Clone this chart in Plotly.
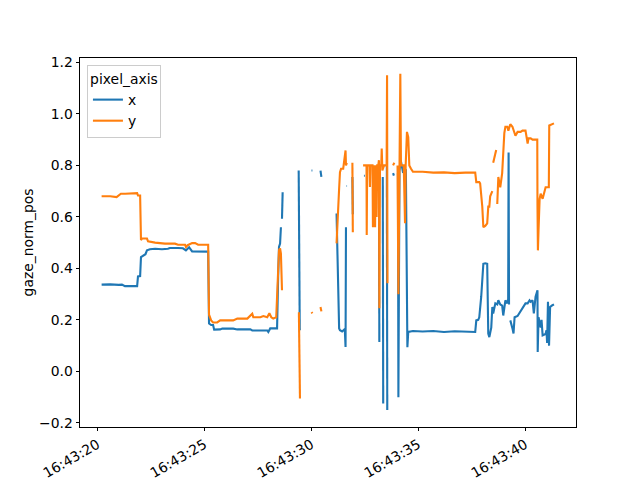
import pandas as pd
import plotly.graph_objects as go

# seconds after 16:43:00 and values (None = gap)
x_sec = [20.20, 20.60, 21.00, 21.15, 21.29, 21.60, 21.86, 21.90, 22.00, 22.04, 22.14, 22.25, 22.32, 22.46, 22.70,
         23.02, 23.30, 23.39, 23.77, 24.00, 24.14, 24.29, 24.43, 24.71, 25.18, 25.22, 25.32, 25.41, 25.46, 25.74,
         25.84, 26.35, 26.54, 27.15, 27.24, 27.94, 27.99, 28.08, 28.40, 28.45, 28.49, 28.54, 28.58, 28.60, 28.63,
         28.66, 28.90, 29.41, 29.43, 29.44, 29.46, 29.70, 30.01, 30.05, 30.20, 30.43, 30.47, 30.80, 31.18, 31.22,
         31.30, 31.34, 31.44, 31.53, 31.57, 31.60, 31.62, 31.64, 31.65, 31.67, 31.80, 31.92, 31.94, 32.20, 32.46,
         32.50, 32.70, 33.16, 33.18, 33.22, 33.34, 33.36, 33.45, 33.53, 33.55, 33.65, 33.82, 33.86, 33.95, 34.05,
         34.07, 34.12, 34.18, 34.28, 34.42, 34.49, 34.53, 34.75, 35.20, 35.70, 36.20, 36.70, 37.20, 37.66, 37.71,
         37.80, 37.85, 37.94, 38.04, 38.13, 38.22, 38.27, 38.32, 38.41, 38.46, 38.50, 38.60, 38.69, 38.74, 38.83,
         38.92, 38.97, 39.07, 39.16, 39.20, 39.22, 39.24, 39.27, 39.30, 39.35, 39.40, 39.45, 39.50, 39.64, 39.78,
         39.92, 40.01, 40.11, 40.20, 40.25, 40.34, 40.40, 40.48, 40.57, 40.58, 40.62, 40.72, 40.76, 40.81, 40.95,
         40.99, 41.02, 41.06, 41.11, 41.16, 41.25, 41.34]
x_val = [0.337, 0.338, 0.336, 0.337, 0.331, 0.332, 0.331, 0.369, 0.370, 0.444, 0.450, 0.455, 0.470, 0.474, 0.476,
         0.474, 0.476, 0.479, 0.479, 0.478, 0.470, 0.482, 0.466, 0.465, 0.465, 0.186, 0.180, 0.180, 0.162, 0.163,
         0.166, 0.166, 0.163, 0.163, 0.159, 0.159, 0.153, 0.167, 0.167, 0.366, 0.483, 0.496, 0.560, None, 0.593,
         0.696, None, 0.780, 0.520, 0.780, 0.160, None, 0.780, 0.780, None, 0.780, 0.755, None, 0.613, 0.490,
         0.167, 0.160, 0.155, 0.162, 0.155, 0.095, 0.560, None, 0.720, 0.720, None, 0.755, 0.610, None, 0.760,
         0.760, None, 0.780, 0.114, None, 0.755, -0.125, None, 0.800, -0.150, None, 0.770, 0.760, None, 0.770,
         -0.100, 0.780, 0.820, 0.775, 0.780, 0.094, 0.153, 0.157, 0.155, 0.157, 0.153, 0.156, 0.154, 0.153, 0.198,
         0.200, 0.210, 0.290, 0.418, 0.420, 0.418, 0.147, 0.133, 0.170, 0.250, 0.225, 0.264, 0.260, 0.276, 0.260,
         0.255, 0.217, 0.276, 0.264, 0.280, 0.850, 0.260, None, 0.198, 0.175, 0.167, 0.147, 0.210, 0.215, 0.235,
         0.250, 0.264, 0.264, 0.276, 0.270, 0.276, 0.225, 0.290, 0.315, 0.075, 0.210, 0.170, 0.200, 0.140, 0.145,
         0.160, 0.110, 0.270, 0.100, 0.250, 0.256, 0.260]

y_sec = [20.20, 20.60, 20.90, 21.10, 21.30, 21.60, 21.86, 21.90, 22.00, 22.04, 22.09, 22.32, 22.37, 22.70, 23.02,
         23.16, 23.63, 23.77, 24.10, 24.14, 24.22, 24.43, 24.57, 24.71, 25.18, 25.22, 25.32, 25.41, 25.60, 25.74,
         26.35, 26.54, 27.01, 27.15, 27.24, 27.29, 27.62, 27.76, 27.94, 28.04, 28.13, 28.22, 28.36, 28.45, 28.49,
         28.54, 28.58, 28.63, 28.90, 29.42, 29.44, 29.45, 29.47, 29.70, 30.01, 30.05, 30.20, 30.43, 30.47, 30.80,
         31.18, 31.25, 31.30, 31.34, 31.39, 31.49, 31.53, 31.57, 31.60, 31.62, 31.66, 31.80, 31.92, 31.94, 32.20,
         32.42, 32.50, 32.58, 32.59, 32.61, 32.72, 32.74, 32.76, 32.86, 32.88, 32.92, 32.98, 33.00, 33.05, 33.08,
         33.13, 33.16, 33.18, 33.21, 33.27, 33.29, 33.32, 33.40, 33.52, 33.54, 33.56, 33.65, 33.82, 33.88, 33.95,
         34.03, 34.07, 34.16, 34.19, 34.32, 34.38, 34.41, 34.47, 34.53, 34.58, 34.66, 34.75, 35.20, 35.70, 36.20,
         36.70, 37.20, 37.66, 37.71, 37.85, 37.89, 37.99, 38.04, 38.13, 38.22, 38.27, 38.32, 38.36, 38.46, 38.48,
         38.50, 38.64, 38.66, 38.69, 38.74, 38.83, 38.92, 39.02, 39.07, 39.16, 39.21, 39.30, 39.40, 39.54, 39.64,
         39.78, 39.87, 40.01, 40.06, 40.11, 40.15, 40.25, 40.34, 40.56, 40.57, 40.59, 40.62, 40.67, 40.72, 40.81,
         40.95, 41.10, 41.12, 41.25, 41.34]
y_val = [0.680, 0.680, 0.677, 0.690, 0.690, 0.692, 0.692, 0.683, 0.683, 0.510, 0.516, 0.516, 0.505, 0.500, 0.497,
         0.496, 0.496, 0.492, 0.492, 0.483, 0.490, 0.498, 0.498, 0.492, 0.492, 0.220, 0.198, 0.190, 0.190, 0.198,
         0.198, 0.205, 0.205, 0.218, 0.224, 0.210, 0.210, 0.215, 0.210, 0.226, 0.210, 0.205, 0.210, 0.390, 0.470,
         0.478, 0.457, 0.315, None, 0.230, 0.000, 0.200, -0.105, None, 0.230, 0.225, None, 0.250, 0.233, None,
         0.497, 0.657, 0.710, 0.774, 0.787, 0.787, 0.813, 0.858, 0.858, 0.800, 0.810, None, 0.810, 0.540, None,
         0.800, 0.800, 0.800, 0.530, 0.800, 0.800, 0.716, 0.800, 0.800, 0.560, 0.800, 0.560, 0.800, 0.600, 0.800,
         0.800, 0.820, 0.245, 0.800, 0.800, 0.865, 0.780, 0.800, 0.800, 1.150, 0.342, None, 0.800, 0.810, None,
         0.800, 0.300, 1.156, 0.800, 0.800, 0.575, 0.800, 0.930, 0.910, 0.800, 0.787, 0.775, 0.775, 0.772, 0.773,
         0.770, 0.772, 0.772, 0.735, 0.735, 0.730, 0.640, 0.560, 0.565, 0.575, 0.640, 0.640, 0.680, 0.700, None,
         0.810, 0.860, None, 0.650, 0.755, 0.715, 0.770, 0.925, 0.950, 0.950, 0.935, 0.960, 0.950, 0.915, 0.930,
         0.930, 0.935, 0.935, 0.905, 0.885, 0.905, 0.905, 0.900, 0.900, 0.645, 0.470, 0.550, 0.670, 0.690, 0.670,
         0.715, 0.715, 0.955, 0.960, 0.963]

tick_sec = [20, 25, 30, 35, 40]
range_sec = [19.19, 42.37]
y_ticks = [-0.2, 0.0, 0.2, 0.4, 0.6, 0.8, 1.0, 1.2]
y_range = [-0.216, 1.217]

base = pd.Timestamp("2024-01-01 16:43:00")
def ts(secs):
    return [base + pd.to_timedelta(s, unit="s") for s in secs]

FONT = "DejaVu Sans"
fig = go.Figure()
fig.add_trace(go.Scatter(x=ts(x_sec), y=x_val, mode="lines", name="x",
                         line=dict(color="#1f77b4", width=2.1)))
fig.add_trace(go.Scatter(x=ts(y_sec), y=y_val, mode="lines", name="y",
                         line=dict(color="#ff7f0e", width=2.1)))

axis_common = dict(showgrid=False, zeroline=False, showline=True, mirror=True,
                   linecolor="black", linewidth=0.8, ticks="outside", ticklen=3.5,
                   tickwidth=0.8, tickcolor="black", automargin=False,
                   tickfont=dict(family=FONT, size=13.9, color="black"))

fig.update_xaxes(type="date", range=ts(range_sec), tickmode="array", tickvals=ts(tick_sec),
                 tickformat="%H:%M:%S", tickangle=-30, **axis_common)
fig.update_yaxes(range=y_range, tickmode="array", tickvals=y_ticks, tickformat=".1f",
                 **axis_common)

fig.add_annotation(text="gaze_norm_pos", xref="paper", yref="paper", x=-0.105, y=0.5,
                   xanchor="center", yanchor="middle", textangle=-90, showarrow=False,
                   font=dict(family=FONT, size=13.9, color="black"))

fig.update_layout(
    width=640, height=480,
    margin=dict(l=80, r=64, t=57.6, b=52.8, pad=0),
    plot_bgcolor="white", paper_bgcolor="white",
    font=dict(family=FONT, size=13.9, color="black"),
    showlegend=True,
    legend=dict(x=0.014, y=0.981, xanchor="left", yanchor="top",
                bordercolor="#cccccc", borderwidth=1, bgcolor="rgba(255,255,255,0.8)",
                title=dict(text="pixel_axis", side="top center",
                           font=dict(family=FONT, size=13.9, color="black")),
                font=dict(family=FONT, size=13.9, color="black"),
                itemwidth=30, tracegroupgap=0),
)

fig.write_html("out.html")
